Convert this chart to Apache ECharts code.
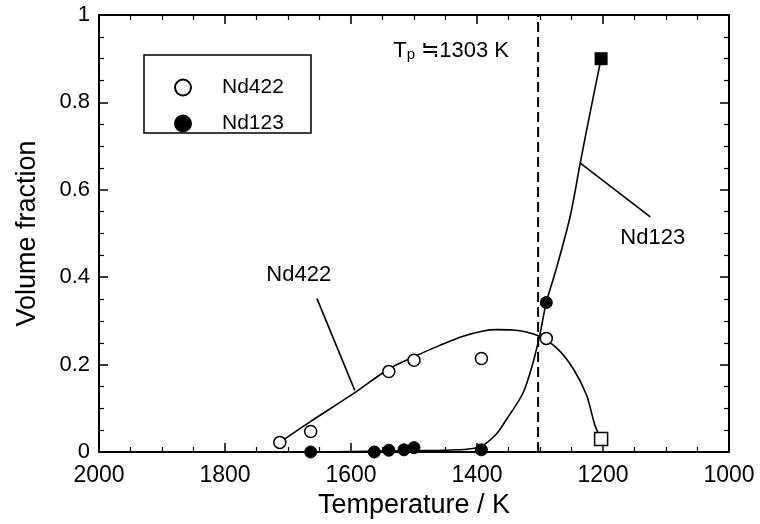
<!DOCTYPE html>
<html>
<head>
<meta charset="utf-8">
<script src="https://cdn.jsdelivr.net/npm/echarts@6/dist/echarts.min.js"></script>
<style>
  html, body { margin: 0; padding: 0; background: #fff; }
  #main { width: 760px; height: 524px; }
</style>
</head>
<body>
<div id="main"></div>
<script>
// measured points (temperature K, volume fraction)
var nd422Points = [[1713, 0.022], [1664, 0.047], [1540, 0.184], [1500, 0.21], [1393, 0.214], [1290, 0.26]];
var nd422End = [[1203, 0.03]];
var nd123Points = [[1664, 0.0], [1563, 0.0], [1540, 0.004], [1516, 0.005], [1500, 0.01], [1393, 0.005], [1290, 0.342]];
var nd123End = [[1203, 0.9]];

// hand-drawn fit curves
var nd422Curve = [[1713, 0.022], [1664, 0.07], [1600, 0.13], [1540, 0.19], [1500, 0.218], [1459, 0.244],
  [1422, 0.265], [1390, 0.277], [1369, 0.28], [1343, 0.279], [1305, 0.267], [1273, 0.237],
  [1247, 0.19], [1226, 0.13], [1213, 0.062], [1203, 0.03]];
var nd123Curve = [[1670, 0.0], [1600, 0.001], [1500, 0.003], [1430, 0.005], [1395, 0.012], [1370, 0.04],
  [1353, 0.075], [1327, 0.135], [1311, 0.205], [1300, 0.27], [1290, 0.342], [1273, 0.425],
  [1252, 0.54], [1236, 0.662], [1220, 0.78], [1203, 0.9]];

// peritectic temperature and annotation leaders
var tpLine = [[1303, 0], [1303, 1]];
var nd422Leader = [[1654, 0.351], [1594, 0.141]];
var nd123Leader = [[1236, 0.661], [1125, 0.538]];
var textLabels = [
  { name: 'Nd422', value: [1683, 0.405] },
  { name: 'Nd123', value: [1121, 0.49] },
  { name: 'Tp', value: [1441, 0.918] }
];

var FONT = '"Liberation Sans", Arial, Helvetica, sans-serif';

function lineSeries(name, data, extra) {
  var s = {
    name: name,
    type: 'line',
    data: data,
    showSymbol: false,
    symbol: 'none',
    silent: true,
    lineStyle: { color: '#000', width: 1.6 },
    z: 2
  };
  for (var k in extra) s[k] = extra[k];
  return s;
}

var chart = echarts.init(document.getElementById('main'), null, { renderer: 'canvas' });

var xBase = {
  type: 'value', min: 1000, max: 2000, interval: 200, inverse: true,
  axisLine: { show: true, onZero: false, lineStyle: { color: '#000', width: 2 } },
  axisTick: { show: true, inside: true, length: 9, lineStyle: { color: '#000', width: 1.5 } },
  minorTick: { show: true, splitNumber: 4, length: 5, lineStyle: { color: '#000', width: 1.2 } },
  splitLine: { show: false }
};
var yBase = {
  type: 'value', min: 0, max: 1, interval: 0.2,
  axisLine: { show: true, onZero: false, lineStyle: { color: '#000', width: 2 } },
  axisTick: { show: true, inside: true, length: 9, lineStyle: { color: '#000', width: 1.5 } },
  minorTick: { show: true, splitNumber: 4, length: 5, lineStyle: { color: '#000', width: 1.2 } },
  splitLine: { show: false }
};

var option = {
  backgroundColor: '#fff',
  animation: false,
  textStyle: { fontFamily: FONT, color: '#000' },
  grid: { left: 99, right: 31, top: 15, bottom: 70 },
  graphic: [{
    type: 'rect',
    shape: { x: 144, y: 55, width: 167, height: 78 },
    style: { fill: '#fff', stroke: '#000', lineWidth: 1.5 },
    z: 5
  }],
  legend: {
    data: ['Nd422', 'Nd123'],
    orient: 'vertical',
    left: 169,
    top: 72,
    itemWidth: 16,
    itemHeight: 16,
    itemGap: 15,
    selectedMode: false,
    z: 10,
    textStyle: { fontSize: 21, color: '#000', fontFamily: FONT, padding: [0, 0, 0, 26] }
  },
  xAxis: [
    echarts.util.merge({
      position: 'bottom',
      name: 'Temperature / K',
      nameLocation: 'middle',
      nameGap: 40,
      nameTextStyle: { fontSize: 27, color: '#000', fontFamily: FONT },
      axisLabel: {
        fontSize: 23, color: '#000', margin: 12, fontFamily: FONT,
        formatter: function (v) { return String(v); }
      }
    }, xBase, true),
    echarts.util.merge({ position: 'top', axisLabel: { show: false } }, xBase, true)
  ],
  yAxis: [
    echarts.util.merge({
      position: 'left',
      name: 'Volume fraction',
      nameLocation: 'middle',
      nameGap: 58,
      nameTextStyle: { fontSize: 27, color: '#000', fontFamily: FONT },
      axisLabel: { fontSize: 22, color: '#000', margin: 9, fontFamily: FONT }
    }, yBase, true),
    echarts.util.merge({ position: 'right', axisLabel: { show: false } }, yBase, true)
  ],
  series: [
    lineSeries('Tp line', tpLine, { lineStyle: { color: '#000', width: 2, type: [10, 5] } }),
    lineSeries('Nd422 fit', nd422Curve, { smooth: 0.3 }),
    lineSeries('Nd123 fit', nd123Curve, { smooth: 0.3 }),
    lineSeries('Nd422 leader', nd422Leader, {}),
    lineSeries('Nd123 leader', nd123Leader, {}),
    {
      name: 'Nd422', type: 'scatter', data: nd422Points, symbol: 'circle', symbolSize: 12, z: 4,
      itemStyle: { color: '#fff', borderColor: '#000', borderWidth: 1.5, opacity: 1 }
    },
    {
      name: 'Nd422 end', type: 'scatter', data: nd422End, symbol: 'rect', symbolSize: 13, z: 4,
      itemStyle: { color: '#fff', borderColor: '#000', borderWidth: 1.5, opacity: 1 }
    },
    {
      name: 'Nd123', type: 'scatter', data: nd123Points, symbol: 'circle', symbolSize: 12, z: 4,
      itemStyle: { color: '#000', borderColor: '#000', borderWidth: 1, opacity: 1 }
    },
    {
      name: 'Nd123 end', type: 'scatter', data: nd123End, symbol: 'rect', symbolSize: 13, z: 4,
      itemStyle: { color: '#000', opacity: 1 }
    },
    {
      name: 'labels', type: 'scatter', data: textLabels, symbolSize: 0, silent: true, z: 6,
      itemStyle: { opacity: 1 },
      label: {
        show: true, position: 'inside', color: '#000', fontSize: 22, fontFamily: FONT, opacity: 1,
        formatter: function (p) {
          if (p.name === 'Tp') return '{t|T}{s|p} {t|\u22521303 K}';
          return p.name;
        },
        rich: {
          t: { fontSize: 22, color: '#000', fontFamily: FONT },
          s: { fontSize: 15, color: '#000', fontFamily: FONT, verticalAlign: 'bottom', padding: [8, 0, 0, 0] }
        }
      }
    }
  ]
};

chart.setOption(option);
</script>
</body>
</html>
